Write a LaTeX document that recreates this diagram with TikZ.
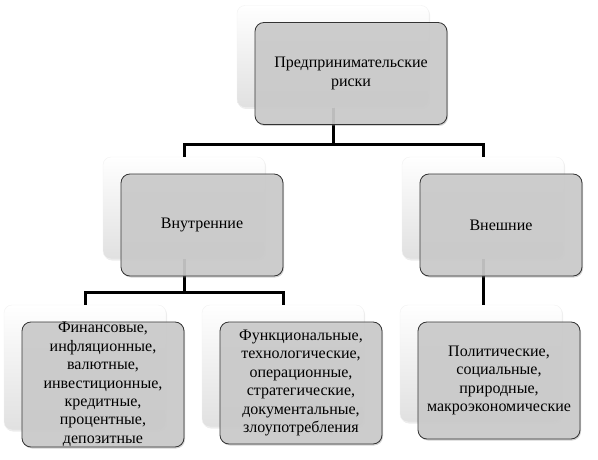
\documentclass[tikz,border=0pt]{standalone}
\usepackage{fontspec}
\setmainfont{Liberation Serif}
\newfontfamily\boxfont{Liberation Serif}
\usetikzlibrary{positioning, calc, shadows}

\tikzset{
  backbox/.style={rounded corners=8pt, draw=black!5, inner sep=0pt,
    top color=white, bottom color=black!12,
    drop shadow={opacity=0.15, shadow xshift=1pt, shadow yshift=-1.5pt}},
  frontbox/.style={rounded corners=9pt, draw=black!80, line width=0.8pt,
    fill=black!20, fill opacity=0.9, text opacity=1, inner sep=0pt,
    align=center, font=\boxfont\fontsize{16pt}{18.4pt}\selectfont,
    drop shadow={opacity=0.35, shadow xshift=1pt, shadow yshift=-1.5pt}},
  link/.style={line width=3pt}
}

\begin{document}
\begin{tikzpicture}[x=1pt, y=-1pt]
  \useasboundingbox (0,0) rectangle (598,460);

  % back panels
  \node[backbox, minimum width=192pt, minimum height=102pt] (topb) at (333,56.5) {};
  \node[backbox, minimum width=162pt, minimum height=102pt] (innb) at (184,208) {};
  \node[backbox, minimum width=162pt, minimum height=102pt] (outb) at (483,208) {};
  \node[backbox, minimum width=162pt, minimum height=125pt] (finb) at (85,367.5) {};
  \node[backbox, minimum width=162pt, minimum height=122pt] (funb) at (283,366) {};
  \node[backbox, minimum width=162pt, minimum height=117pt] (polb) at (481,363.5) {};

  % tree lines
  \draw[link] (topb.south) -- ++(0,37) -| (innb.north);
  \draw[link] (topb.south) -- ++(0,37) -| (outb.north);
  \draw[link] (innb.south) -- ++(0,33) -| (finb.north);
  \draw[link] (innb.south) -- ++(0,33) -| (funb.north);
  \draw[link] (outb.south) -- (outb.south |- polb.north);

  % front boxes
  \node[frontbox, minimum width=192pt, minimum height=102pt]
    (top) at ($(topb)+(18,17)$) {Предпринимательские\\[1.5pt]риски};
  \node[frontbox, minimum width=162pt, minimum height=102pt]
    (inn) at ($(innb)+(18,17)$) {Внутренние};
  \node[frontbox, minimum width=162pt, minimum height=102pt]
    (out) at ($(outb)+(18,17)$) {Внешние};
  \node[frontbox, minimum width=162pt, minimum height=125pt]
    (fin) at ($(finb)+(18,17)$)
    {Финансовые,\\инфляционные,\\валютные,\\инвестиционные,\\кредитные,\\процентные,\\депозитные};
  \node[frontbox, minimum width=162pt, minimum height=122pt]
    (fun) at ($(funb)+(18,17)$)
    {Функциональные,\\технологические,\\операционные,\\стратегические,\\документальные,\\злоупотребления};
  \node[frontbox, minimum width=162pt, minimum height=117pt]
    (pol) at ($(polb)+(18,17)$)
    {Политические,\\социальные,\\природные,\\макроэкономические};
\end{tikzpicture}
\end{document}
